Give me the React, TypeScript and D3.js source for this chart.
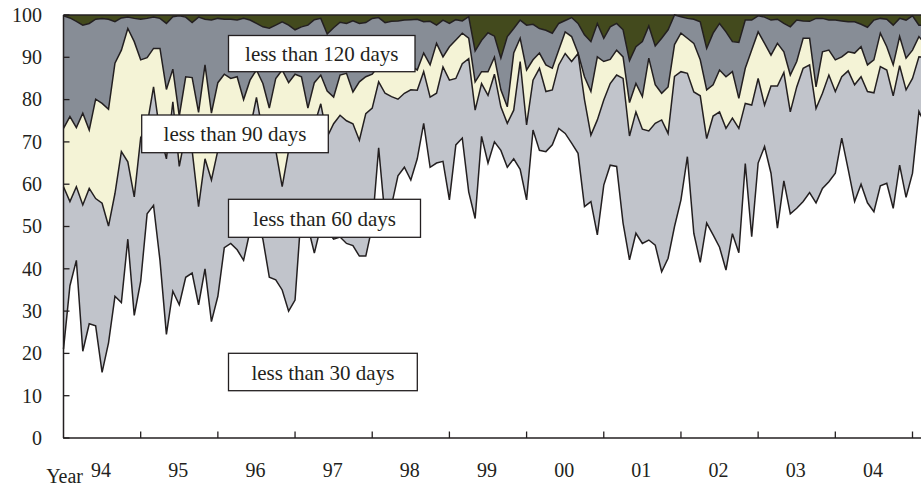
import React from "react";
import * as d3 from "d3";

// Cumulative share (%) of items settled within the given number of days, monthly from Jan 1994
const under30 = [
  21, 36, 42, 20.5, 27, 26.5, 15.5, 22.5, 33.5, 32, 47, 29,
  37, 53, 55, 42, 24.5, 34.7, 31.5, 38, 39, 31.5, 40, 27.5,
  33.5, 45, 46, 44.5, 42, 49, 52, 47, 38, 37.4, 35, 30,
  32.6, 54, 50, 43.7, 50, 49, 47, 47.5, 46, 45.5, 43, 43,
  50, 68.6, 52, 55, 62, 64, 61, 66, 74.4, 64, 65, 65.4,
  56.3, 69.3, 70.9, 58.2, 51.9, 71.3, 65, 70, 68, 64, 66, 63.5,
  56.3, 72.8, 68, 67.7, 69.3, 73.2, 72, 69.7, 67.3, 54.7, 55.9, 48,
  59.8, 64.5, 64.2, 50.8, 42.1, 48.4, 46, 46.8, 45.6, 39.3, 42.5, 50,
  56.3, 66.5, 48.4, 41.5, 50.8, 48, 45.1, 39.7, 48.3, 43.8, 64.9, 47.6,
  65, 68.9, 62.6, 49.6, 60.8, 53, 54.3, 55.9, 58, 55.6, 59, 60.6,
  62.6, 70.9, 63.5, 55.9, 60, 55.6, 53.5, 59.6, 60.2, 54.3, 64.5, 56.9,
  62.6, 77.2, 74,
];
const under60 = [
  59.4, 55.9, 59.4, 55.1, 59, 56.6, 55.5, 50.1, 57.8, 67.7, 65.3, 57,
  71, 74, 83, 72, 66, 79.5, 64.2, 72, 68, 54.7, 66, 61,
  68, 72, 73, 72, 70, 73, 80.5, 72, 70, 68, 59.4, 68,
  72, 73, 71, 74, 79, 71.2, 74.3, 76.3, 75, 74.3, 70.4, 76.7,
  78, 84.2, 81.5, 80.7, 80.1, 81.5, 82.3, 82.2, 86.6, 80.6, 81.5, 87.7,
  84.6, 85, 88.5, 89.7, 77.5, 83.8, 81, 86, 78.3, 74.4, 77.5, 89,
  74, 84.6, 87.4, 81.9, 82.3, 88.2, 90.9, 89, 90.9, 80, 71.6, 75.2,
  79.9, 83.8, 85.8, 85, 71.4, 77.1, 73, 72.6, 74.4, 75.2, 72, 85.5,
  86.6, 86.2, 81.8, 80.9, 70.8, 76.1, 77.1, 73.2, 75.6, 73.2, 79.1, 78.7,
  85, 78.7, 83.2, 83.2, 86.4, 77.1, 83, 87.4, 88.2, 77.9, 81.5, 85.8,
  81.9, 85.4, 86.8, 83.5, 85.4, 81.9, 81.6, 87.8, 87, 80.9, 88, 82.3,
  85, 90.1, 90,
];
const under90 = [
  73.2, 76, 73.4, 76.8, 72.8, 80.1, 79.1, 77.7, 88.6, 91.7, 96.8, 93.7,
  89.4, 89.9, 92.1, 92.1, 82.4, 87.2, 76.1, 85.4, 85.2, 77, 88.2, 76.8,
  84, 86, 85, 85.4, 80, 84.6, 87, 83.8, 78, 85, 87, 84,
  86, 85.4, 78, 84, 85.8, 82, 80.6, 85.8, 86.2, 81.8, 84.2, 85.4,
  86, 88, 89, 88, 89, 90, 88, 87, 91, 88.2, 93.3, 90.1,
  92.5, 94.1, 95.7, 94.5, 84.2, 86.6, 86.6, 90, 82.3, 78.3, 91, 94.5,
  87, 89.4, 91, 88.2, 87.4, 91.7, 96, 94.9, 91, 85.4, 81.9, 90.1,
  89, 89.5, 91.7, 90.1, 79.3, 83.8, 80.7, 89.8, 83.5, 81.5, 83, 93,
  95.7, 94.5, 93.3, 89.4, 82.3, 83.5, 87, 85.4, 86.6, 80.3, 87.4, 91.7,
  96, 93.3, 90.5, 93.3, 91.3, 85.8, 89, 94.5, 94.5, 83, 91.3, 91.7,
  89.4, 90.1, 91.3, 91, 92.5, 88.2, 89.4, 95.7, 92.5, 88.2, 94.9, 89.8,
  91.7, 94.9, 93,
];
const under120 = [
  99.8, 99.3, 98.5, 97.6, 98, 99, 99.2, 99, 98.4, 99.3, 99.5, 99.2,
  99, 99.2, 99.5, 99.2, 98, 99.6, 99.8, 99.5, 98.2, 99.5, 99, 98.8,
  99.2, 99, 99, 98.8, 99.2, 98.8, 98, 97.2, 96.9, 97.6, 98.4, 97.6,
  96.5, 97.2, 97.6, 98.9, 99.2, 95.5, 97, 98.3, 98, 98.6, 98, 98.2,
  99.2, 99.4, 98.2, 98.5, 98.6, 98.8, 98.9, 99, 98.4, 98.5, 97.6, 98.8,
  98, 98.9, 98.6, 99.6, 91.5, 94, 95.8, 95, 89.8, 94.9, 96.8, 98.8,
  97.6, 97.8, 96.8, 96.4, 95.7, 98, 98.7, 99.4, 98, 95.3, 93.7, 98,
  94.5, 97.2, 98, 96.5, 89.2, 92.5, 93.7, 97.4, 92.7, 94.5, 96.5, 100,
  99.6, 99.2, 99, 98.4, 92.1, 95.7, 98, 96, 93.7, 93.5, 98.8, 98.8,
  99.8, 99.5, 98.8, 99, 98, 97.2, 98.8, 98.6, 98.5, 99.2, 99.2, 98.8,
  98.8, 98.6, 98.4, 98.4, 97.8, 97.1, 98.8, 99.2, 99, 97.6, 99.2, 98.8,
  99.8, 97.6, 97.5,
];
const total = under120.map(() => 100);

const yearLabels = ["94", "95", "96", "97", "98", "99", "00", "01", "02", "03", "04"];
const yTicks = [0, 10, 20, 30, 40, 50, 60, 70, 80, 90, 100];
const bandLabels = ["less than 120 days", "less than 90 days", "less than 60 days", "less than 30 days"];

const FONT = "'Liberation Serif', 'Times New Roman', serif";

export default function App() {
  const W = 921;
  const H = 489;
  const x = d3.scaleLinear().domain([0, 132]).range([63.5, 912.5]);
  const y = d3.scaleLinear().domain([0, 100]).range([438, 15]);

  const zero = under30.map(() => 0);
  const layers = [
    { lo: zero, hi: under30, fill: "#ffffff" },
    { lo: under30, hi: under60, fill: "#c1c4cb" },
    { lo: under60, hi: under90, fill: "#f4f3d6" },
    { lo: under90, hi: under120, fill: "#878d96" },
    { lo: under120, hi: total, fill: "#434a1d" },
  ];
  const idx = d3.range(under30.length);
  const area = (lo: number[], hi: number[]) =>
    d3
      .area<number>()
      .x((i) => x(i))
      .y0((i) => y(lo[i]))
      .y1((i) => y(hi[i]))(idx) || "";
  const line = (vals: number[]) =>
    d3
      .line<number>()
      .x((i) => x(i))
      .y((i) => y(vals[i]))(idx) || "";

  const boxes = [
    { x0: 228.5, x1: 415, y0: 35.5, y1: 71.7, label: bandLabels[0] },
    { x0: 141.7, x1: 328.3, y0: 115, y1: 152.7, label: bandLabels[1] },
    { x0: 228.5, x1: 420.5, y0: 199.3, y1: 237.3, label: bandLabels[2] },
    { x0: 228.5, x1: 417.3, y0: 353.3, y1: 390.7, label: bandLabels[3] },
  ];

  const yearTicks = d3.range(1, 12).map((k) => k * 12);

  return (
    <div style={{ position: "absolute", left: 0, top: 0, width: W, height: H, background: "#fff" }}>
      <svg width={W} height={H} viewBox={`0 0 ${W} ${H}`} style={{ display: "block" }}>
        <rect x={0} y={0} width={W} height={H} fill="#fff" />
        <g>
          {layers.map((l, k) => (
            <path key={k} d={area(l.lo, l.hi)} fill={l.fill} stroke="none" />
          ))}
          {[under30, under60, under90, under120, total].map((v, k) => (
            <path key={k} d={line(v)} fill="none" stroke="#231f20" strokeWidth={1.5} strokeLinejoin="miter" />
          ))}
        </g>
        {/* axes */}
        <line x1={63.5} x2={63.5} y1={15} y2={438} stroke="#231f20" strokeWidth={1.5} />
        <line x1={63} x2={W} y1={438} y2={438} stroke="#231f20" strokeWidth={1.5} />
        {yTicks.map((t) => (
          <g key={t}>
            <line x1={63.5} x2={69.5} y1={y(t)} y2={y(t)} stroke="#231f20" strokeWidth={1.3} />
            <text x={42} y={y(t) + 6.8} textAnchor="end" fontFamily={FONT} fontSize={20} fill="#231f20">
              {t}
            </text>
          </g>
        ))}
        {yearTicks.map((m) => (
          <line key={m} x1={x(m)} x2={x(m)} y1={438} y2={431.5} stroke="#231f20" strokeWidth={1.3} />
        ))}
        {yearLabels.map((lab, k) => (
          <text key={lab} x={x(k * 12 + 6) - 1} y={476.7} textAnchor="middle" fontFamily={FONT} fontSize={20} fill="#231f20">
            {lab}
          </text>
        ))}
        <text x={83} y={483} textAnchor="end" fontFamily={FONT} fontSize={20} fill="#231f20">
          Year
        </text>
        {boxes.map((b) => (
          <g key={b.label}>
            <rect x={b.x0} y={b.y0} width={b.x1 - b.x0} height={b.y1 - b.y0} fill="#fff" stroke="#231f20" strokeWidth={1.3} />
            <text
              x={(b.x0 + b.x1) / 2}
              y={(b.y0 + b.y1) / 2 + 7.5}
              textAnchor="middle"
              fontFamily={FONT}
              fontSize={21}
              fill="#231f20"
            >
              {b.label}
            </text>
          </g>
        ))}
      </svg>
    </div>
  );
}
